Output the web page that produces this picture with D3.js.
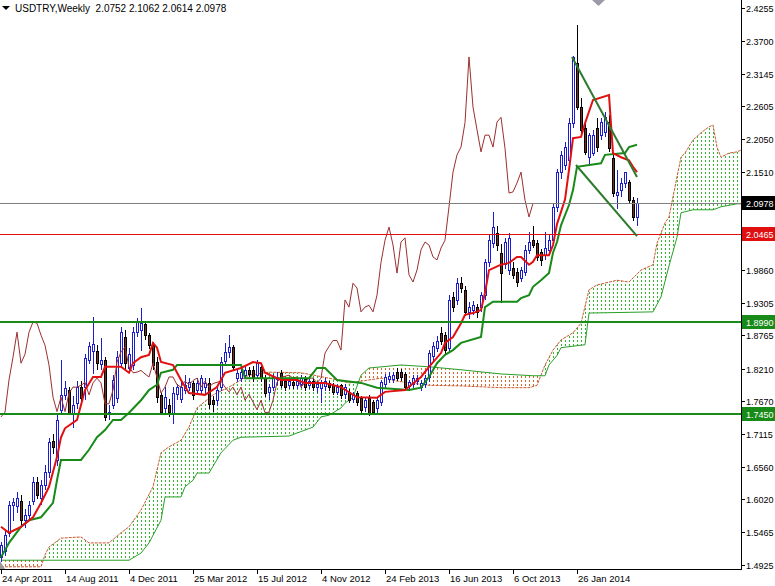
<!DOCTYPE html>
<html>
<head>
<meta charset="utf-8">
<script src="https://cdn.jsdelivr.net/npm/d3@7"></script>
<style>
body { margin: 0; background: #fff; }
svg text { font-family: "Liberation Sans", Arial, sans-serif; font-size: 10px; }
</style>
</head>
<body>
<script>
// weekly USDTRY candles, bar 0 = 24 Apr 2011
let opens = [
  1.505,1.515,1.545,1.592,1.590,1.600,1.567,1.576,1.600,1.631,
  1.605,1.626,1.648,1.700,1.668,1.752,1.777,1.785,1.747,1.763,
  1.790,1.790,1.835,1.851,1.851,1.828,1.835,1.745,1.760,1.772,
  1.830,1.874,1.822,1.827,1.882,1.886,1.895,1.877,1.860,1.832,
  1.777,1.755,1.760,1.747,1.778,1.770,1.785,1.790,1.797,1.785,
  1.785,1.790,1.797,1.768,1.768,1.790,1.833,1.849,1.857,1.805,
  1.806,1.810,1.818,1.818,1.810,1.823,1.806,1.782,1.790,1.803,
  1.813,1.801,1.793,1.798,1.793,1.795,1.804,1.793,1.801,1.790,
  1.789,1.791,1.797,1.793,1.782,1.793,1.778,1.782,1.770,1.780,
  1.772,1.757,1.772,1.765,1.755,1.765,1.796,1.803,1.803,1.815,
  1.815,1.812,1.792,1.795,1.800,1.790,1.795,1.807,1.842,1.856,
  1.880,1.877,1.855,1.941,1.936,1.964,1.953,1.916,1.919,1.924,
  1.924,1.944,1.999,2.031,2.048,2.015,1.996,1.986,1.990,1.983,
  1.973,1.983,2.020,2.036,2.031,2.016,2.011,2.020,2.036,2.092,
  2.150,2.162,2.170,2.233,2.333,2.259,2.224,2.175,2.182,2.224,
  2.212,2.218,2.234,2.174,2.112,2.120,2.132,2.133,2.103,2.0752];
let highs = [
  1.530,1.550,1.600,1.605,1.615,1.610,1.585,1.600,1.640,1.640,
  1.635,1.660,1.705,1.712,1.745,1.835,1.800,1.790,1.775,1.800,
  1.800,1.845,1.866,1.907,1.860,1.872,1.840,1.760,1.810,1.850,
  1.890,1.885,1.855,1.890,1.906,1.922,1.900,1.880,1.865,1.840,
  1.780,1.790,1.770,1.790,1.795,1.800,1.810,1.805,1.800,1.805,
  1.810,1.805,1.805,1.775,1.790,1.840,1.864,1.877,1.860,1.820,
  1.822,1.825,1.823,1.825,1.835,1.828,1.810,1.795,1.812,1.815,
  1.818,1.805,1.805,1.803,1.806,1.810,1.808,1.805,1.805,1.800,
  1.802,1.805,1.800,1.797,1.795,1.796,1.795,1.786,1.782,1.783,
  1.775,1.772,1.776,1.768,1.772,1.802,1.812,1.815,1.815,1.822,
  1.820,1.816,1.802,1.810,1.810,1.802,1.810,1.852,1.865,1.875,
  1.890,1.882,1.945,1.950,1.972,1.975,1.960,1.932,1.935,1.930,
  1.950,2.005,2.045,2.083,2.060,2.030,2.040,2.048,2.000,1.990,
  1.992,2.028,2.050,2.060,2.036,2.022,2.050,2.045,2.098,2.155,
  2.185,2.200,2.240,2.345,2.397,2.275,2.235,2.215,2.220,2.240,
  2.240,2.250,2.245,2.180,2.153,2.140,2.150,2.137,2.108,2.1062];
let lows = [
  1.498,1.508,1.540,1.567,1.580,1.560,1.555,1.570,1.595,1.605,
  1.595,1.620,1.640,1.680,1.660,1.747,1.770,1.745,1.723,1.755,
  1.765,1.770,1.830,1.813,1.820,1.820,1.735,1.737,1.755,1.765,
  1.825,1.820,1.815,1.820,1.875,1.852,1.870,1.855,1.820,1.765,
  1.745,1.745,1.742,1.730,1.770,1.765,1.780,1.785,1.770,1.780,
  1.780,1.780,1.755,1.750,1.760,1.785,1.830,1.840,1.820,1.800,
  1.800,1.805,1.808,1.800,1.805,1.800,1.775,1.770,1.785,1.795,
  1.790,1.785,1.788,1.788,1.788,1.790,1.785,1.788,1.785,1.782,
  1.765,1.785,1.785,1.778,1.778,1.772,1.772,1.765,1.765,1.760,
  1.748,1.750,1.743,1.745,1.748,1.760,1.790,1.798,1.798,1.802,
  1.802,1.785,1.785,1.790,1.795,1.785,1.790,1.800,1.835,1.850,
  1.862,1.845,1.850,1.918,1.930,1.950,1.910,1.905,1.912,1.908,
  1.918,1.938,1.993,2.025,2.020,1.933,1.990,1.980,1.972,1.960,
  1.968,1.978,2.015,2.025,2.003,1.995,2.005,2.015,2.030,2.085,
  2.140,2.155,2.165,2.225,2.255,2.215,2.180,2.165,2.178,2.185,
  2.205,2.210,2.185,2.110,2.090,2.110,2.125,2.100,2.070,2.0614];
let closes = [
  1.525,1.542,1.592,1.598,1.605,1.567,1.576,1.592,1.631,1.610,
  1.626,1.648,1.698,1.690,1.735,1.777,1.789,1.747,1.760,1.790,
  1.772,1.839,1.858,1.862,1.830,1.835,1.740,1.748,1.802,1.840,
  1.882,1.830,1.845,1.882,1.899,1.897,1.877,1.860,1.827,1.773,
  1.749,1.773,1.749,1.780,1.790,1.790,1.793,1.798,1.777,1.797,
  1.805,1.797,1.762,1.762,1.785,1.832,1.849,1.857,1.824,1.814,
  1.815,1.818,1.812,1.807,1.830,1.806,1.780,1.790,1.807,1.807,
  1.794,1.790,1.800,1.794,1.801,1.805,1.790,1.800,1.790,1.796,
  1.798,1.800,1.790,1.782,1.790,1.777,1.790,1.768,1.778,1.765,
  1.752,1.768,1.747,1.748,1.768,1.798,1.807,1.808,1.810,1.805,
  1.807,1.790,1.798,1.805,1.805,1.797,1.805,1.847,1.858,1.868,
  1.868,1.852,1.936,1.924,1.964,1.956,1.916,1.924,1.927,1.916,
  1.944,1.999,2.036,2.058,2.028,1.981,2.033,2.040,1.978,1.966,
  1.986,2.020,2.033,2.028,2.008,2.003,2.023,2.036,2.092,2.150,
  2.179,2.192,2.233,2.343,2.259,2.221,2.184,2.212,2.212,2.192,
  2.234,2.242,2.190,2.115,2.117,2.132,2.150,2.103,2.075,2.0978];

// ichimoku lines as [bar, price]
let tenkan = [[0,1.556],[2,1.546],[5,1.556],[8,1.572],[10,1.596],[12,1.623],[14,1.673],[15,1.706],[16,1.721],[19,1.735],
  [21,1.785],[23,1.807],[25,1.807],[26,1.824],[30,1.824],[32,1.814],[33,1.830],[35,1.840],[37,1.844],[38,1.864],[39,1.856],
  [40,1.832],[43,1.827],[45,1.802],[47,1.780],[51,1.777],[54,1.790],[56,1.814],[60,1.822],[63,1.832],[65,1.830],[66,1.814],
  [70,1.802],[74,1.802],[76,1.797],[81,1.797],[85,1.790],[89,1.773],[94,1.772],[96,1.782],[101,1.785],[105,1.807],[107,1.824],
  [110,1.847],[111,1.864],[113,1.874],[115,1.897],[116,1.911],[118,1.914],[120,1.919],[121,1.948],[122,1.986],[125,1.995],
  [127,1.998],[129,2.008],[130,2.008],[132,1.995],[133,2.000],[134,2.011],[137,2.011],[138,2.028],[139,2.063],[141,2.104],
  [142,2.154],[143,2.207],[145,2.209],[146,2.232],[148,2.271],[152,2.279],[153,2.182],[155,2.175],[157,2.170],[158,2.159],[159,2.150]];
let kijun = [[0,1.505],[2,1.529],[5,1.556],[7,1.567],[10,1.572],[13,1.596],[14,1.634],[15,1.668],[20,1.668],[22,1.685],
  [24,1.706],[26,1.718],[28,1.735],[30,1.735],[32,1.747],[35,1.768],[37,1.785],[39,1.794],[40,1.814],[43,1.819],[44,1.827],
  [60,1.827],[61,1.805],[77,1.805],[79,1.822],[81,1.822],[84,1.802],[90,1.797],[94,1.789],[102,1.785],[105,1.789],[107,1.807],
  [109,1.830],[111,1.844],[113,1.852],[115,1.864],[120,1.874],[121,1.924],[123,1.933],[129,1.933],[130,1.939],[132,1.944],
  [133,1.958],[135,1.969],[137,1.981],[138,2.015],[139,2.033],[140,2.061],[142,2.095],[143,2.120],[144,2.159],[150,2.165],
  [151,2.179],[156,2.182],[157,2.192],[159,2.196]];
let spanA = [[0,1.489],[10,1.489],[11,1.509],[12,1.522],[15,1.537],[20,1.539],[22,1.529],[27,1.529],[30,1.546],[32,1.556],
  [35,1.584],[38,1.623],[40,1.680],[42,1.690],[45,1.701],[47,1.723],[49,1.755],[53,1.777],[57,1.790],[60,1.802],[62,1.810],
  [67,1.815],[75,1.814],[82,1.805],[87,1.797],[95,1.805],[100,1.799],[107,1.793],[115,1.792],[125,1.789],[132,1.789],
  [134,1.793],[136,1.827],[138,1.852],[140,1.869],[143,1.881],[145,1.897],[147,1.953],[149,1.961],[154,1.969],[157,1.966],
  [160,1.986],[163,1.995],[164,2.031],[166,2.065],[167,2.075],[169,2.142],[170,2.175],[171,2.182],[173,2.204],[175,2.216],
  [177,2.226],[178,2.229],[179,2.192],[180,2.175],[182,2.182],[184,2.184],[185,2.187]];
let spanB = [[0,1.500],[10,1.500],[32,1.500],[35,1.512],[37,1.529],[40,1.567],[41,1.606],[45,1.606],[46,1.623],[48,1.634],
  [49,1.646],[52,1.646],[55,1.680],[58,1.701],[60,1.706],[72,1.708],[74,1.713],[78,1.723],[80,1.740],[82,1.743],[85,1.755],
  [86,1.763],[88,1.773],[90,1.810],[92,1.822],[100,1.827],[107,1.824],[115,1.819],[125,1.812],[133,1.809],[136,1.809],
  [137,1.827],[139,1.843],[140,1.856],[146,1.861],[147,1.914],[163,1.916],[165,1.941],[167,1.993],[169,2.041],[170,2.082],
  [173,2.087],[178,2.087],[180,2.092],[184,2.097],[185,2.097]];
let chikouShift = 26;

// drawn objects
let levels = [2.0978, 2.0465, 1.8990, 1.7450];
let levelColors = ["#808080", "#e01010", "#178a17", "#178a17"];
let levelWidths = [1, 1, 2, 2];
let trendUpper = [[142.75, 2.343], [159, 2.142]];
let trendLower = [[143.75, 2.162], [159, 2.043]];

let priceTicks = [2.4255, 2.3700, 2.3145, 2.2605, 2.2050, 2.1510, 1.9860, 1.9305, 1.8765, 1.8210, 1.7670, 1.7115, 1.6560, 1.6020, 1.5465, 1.4925];
let dateLabels = ["24 Apr 2011", "14 Aug 2011", "4 Dec 2011", "25 Mar 2012", "15 Jul 2012", "4 Nov 2012", "24 Feb 2013", "16 Jun 2013", "6 Oct 2013", "26 Jan 2014"];
let dateBars = [0, 16, 32, 48, 64, 80, 96, 112, 128, 144];

let plotW = 741, plotH = 569;
let svg = d3.select("body").append("svg").attr("width", 775).attr("height", 586);
let x = d3.scaleLinear().domain([0, 185]).range([1, 741]);
let y = d3.scaleLinear().domain([1.4853, 2.4384]).range([plotH, 0]);
let px = d => Math.round(x(d));
let py = d => Math.round(y(d));

let defs = svg.append("defs");
defs.append("clipPath").attr("id", "plot").append("rect").attr("width", plotW).attr("height", plotH);

let ptsA = spanA.map(d => [x(d[0]), y(d[1])]);
let ptsB = spanB.map(d => [x(d[0]), y(d[1])]);
let line = d3.line();
let kumo = line(ptsA.concat(ptsB.slice().reverse())) + "Z";
let belowA = line(ptsA.concat([[plotW, plotH], [0, plotH]])) + "Z";
let aboveA = line(ptsA.concat([[plotW, 0], [0, 0]])) + "Z";
// one mask per kumo colour: area between the spans, minus the side of span A that does not belong
[["maskUp", aboveA], ["maskDn", belowA]].forEach(m => {
  let mk = defs.append("mask").attr("id", m[0]).attr("maskUnits", "userSpaceOnUse")
    .attr("x", 0).attr("y", 0).attr("width", plotW).attr("height", plotH);
  mk.append("path").attr("d", kumo).attr("fill", "#fff");
  mk.append("path").attr("d", m[1]).attr("fill", "#000");
});

let plot = svg.append("g");
// dotted vertical hatch, one column per bar
let cols = d3.range(0, 186);
[["maskUp", "#2fb82f"], ["maskDn", "#d8642e"]].forEach(k => {
  plot.append("g").attr("mask", "url(#" + k[0] + ")")
    .selectAll("line").data(cols).enter().append("line")
    .attr("x1", d => px(d) + 0.5).attr("x2", d => px(d) + 0.5)
    .attr("y1", 0).attr("y2", plotH)
    .attr("stroke", k[1]).attr("stroke-width", 1).attr("stroke-dasharray", "2,2");
});

let lines = svg.append("g").attr("clip-path", "url(#plot)");
lines.append("path").attr("d", line(ptsA)).attr("fill", "none").attr("stroke", "#c85a30").attr("stroke-dasharray", "3,1");
lines.append("path").attr("d", line(ptsB)).attr("fill", "none").attr("stroke", "#28a028");

// candles
let bars = opens.map((o, i) => ({ i: i, o: o, h: highs[i], l: lows[i], c: closes[i] }));
let candles = lines.append("g").attr("shape-rendering", "crispEdges");
candles.selectAll("line").data(bars).enter().append("line")
  .attr("x1", d => px(d.i) + 0.5).attr("x2", d => px(d.i) + 0.5)
  .attr("y1", d => py(d.h)).attr("y2", d => py(d.l) + 1)
  .attr("stroke", d => d.c >= d.o ? "#1c1cd0" : "#000");
candles.selectAll("rect").data(bars).enter().append("rect")
  .attr("x", d => px(d.i) - 0.5).attr("width", 2)
  .attr("y", d => py(Math.max(d.o, d.c)) + 0.5)
  .attr("height", d => Math.max(1, py(Math.min(d.o, d.c)) - py(Math.max(d.o, d.c))))
  .attr("fill", d => d.c >= d.o ? "#fff" : "#7a2e22")
  .attr("stroke", d => d.c >= d.o ? "#1c1cd0" : "#000");

// chikou = closes shifted back
let chikou = closes.map((c, i) => [x(i - chikouShift), y(c)]).filter((d, i) => i >= chikouShift);
lines.append("path").attr("d", line(chikou)).attr("fill", "none").attr("stroke", "#9b2f2f").attr("stroke-width", 1);
lines.append("path").attr("d", line(kijun.map(d => [x(d[0]), y(d[1])]))).attr("fill", "none")
  .attr("stroke", "#178a17").attr("stroke-width", 2);
lines.append("path").attr("d", line(tenkan.map(d => [x(d[0]), y(d[1])]))).attr("fill", "none")
  .attr("stroke", "#e01010").attr("stroke-width", 2);

// horizontal levels and trend lines
lines.selectAll("line.level").data(levels).enter().append("line")
  .attr("x1", 0).attr("x2", plotW)
  .attr("y1", (d, i) => py(d) + (levelWidths[i] == 1 ? 0.5 : 0))
  .attr("y2", (d, i) => py(d) + (levelWidths[i] == 1 ? 0.5 : 0))
  .attr("stroke", (d, i) => levelColors[i]).attr("stroke-width", (d, i) => levelWidths[i]);
[trendUpper, trendLower].forEach(t => {
  lines.append("path").attr("d", line(t.map(d => [x(d[0]), y(d[1])])))
    .attr("stroke", "#2c7a2c").attr("stroke-width", 2).attr("fill", "none");
});

// axes
let axes = svg.append("g").attr("shape-rendering", "crispEdges");
axes.append("line").attr("x1", plotW + 0.5).attr("x2", plotW + 0.5).attr("y1", 0).attr("y2", plotH + 1).attr("stroke", "#000");
axes.append("line").attr("x1", 0).attr("x2", plotW + 1).attr("y1", plotH + 0.5).attr("y2", plotH + 0.5).attr("stroke", "#000");
axes.selectAll("line.pt").data(priceTicks).enter().append("line")
  .attr("x1", plotW).attr("x2", plotW + 4).attr("y1", d => py(d) + 0.5).attr("y2", d => py(d) + 0.5).attr("stroke", "#000");
svg.selectAll("text.pt").data(priceTicks).enter().append("text")
  .attr("x", plotW + 5).attr("y", d => py(d) + 3.5).style("font-size", "9px").text(d => d.toFixed(4));
axes.selectAll("line.dt").data(dateBars).enter().append("line")
  .attr("x1", d => px(d) + 0.5).attr("x2", d => px(d) + 0.5).attr("y1", plotH).attr("y2", plotH + 5).attr("stroke", "#000");
svg.selectAll("text.dt").data(dateLabels).enter().append("text")
  .attr("x", (d, i) => px(dateBars[i]) + 1).attr("y", 582).style("font-size", "9.5px").text(d => d);

// level boxes on the price axis
let boxColors = ["#000", "#e01010", "#178a17", "#178a17"];
levels.forEach((v, i) => {
  svg.append("rect").attr("x", plotW + 1).attr("y", py(v) - 7).attr("width", 33).attr("height", 14).attr("fill", boxColors[i]);
  svg.append("text").attr("x", plotW + 5).attr("y", py(v) + 3.5).attr("fill", "#fff")
    .style("font-size", "9px").text(v.toFixed(4));
});

// title and shift marker
svg.append("path").attr("d", "M2,6L10,6L6,10Z").attr("fill", "#000");
svg.append("text").attr("x", 15).attr("y", 12).style("white-space", "pre")
  .text("USDTRY,Weekly  2.0752 2.1062 2.0614 2.0978");
svg.append("path").attr("d", "M592,0L605,0L598.5,6Z").attr("fill", "#9a9aa8");
svg.append("path").attr("d", "M0,561L0,569L5,569Z").attr("fill", "#9a9a9a");
</script>
</body>
</html>
